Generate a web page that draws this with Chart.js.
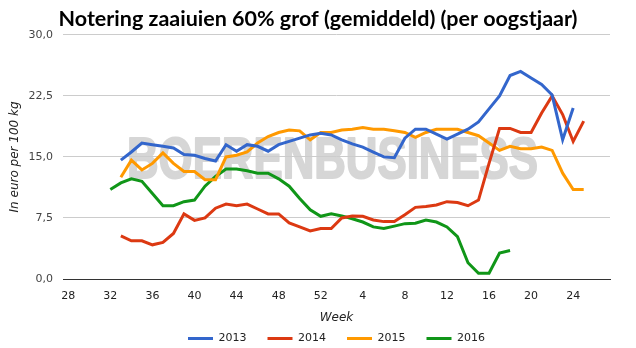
<!DOCTYPE html>
<html>
<head>
<meta charset="utf-8">
<script src="https://cdn.jsdelivr.net/npm/chart.js@4.4.1/dist/chart.umd.min.js"></script>
<style>
  html, body { margin: 0; padding: 0; background: #fff; }
  #wrap { width: 636px; height: 348px; }
</style>
</head>
<body>
<div id="wrap"><canvas id="c" width="636" height="348"></canvas></div>
<script>
// Harvest-year weeks: week 28 through week 27 of the next calendar year
const weeks = [28, 29, 30, 31, 32, 33, 34, 35, 36, 37, 38, 39, 40, 41, 42, 43, 44, 45, 46, 47, 48, 49, 50, 51, 52,
               1, 2, 3, 4, 5, 6, 7, 8, 9, 10, 11, 12, 13, 14, 15, 16, 17, 18, 19, 20, 21, 22, 23, 24, 25, 26, 27];

// Quotation, euro per 100 kg, per harvest year
const price2013 = [null, null, null, null, null,
  14.6, 15.6, 16.7, 16.5, 16.3, 16.1, 15.3, 15.2, 14.8, 14.5,
  16.5, 15.7, 16.5, 16.3, 15.7, 16.5, 16.9, 17.3, 17.7, 17.9,
  17.7, 17.1, 16.6, 16.2, 15.6, 15.0, 14.9, 17.3, 18.4, 18.4,
  17.8, 17.2, 17.8, 18.4, 19.3, 20.9, 22.5, 25.0, 25.5, 24.7,
  23.9, 22.6, 17.1, 21.0, null, null, null];

const price2014 = [null, null, null, null, null,
  5.3, 4.7, 4.7, 4.2, 4.5, 5.6, 8.0, 7.2, 7.5, 8.7,
  9.2, 9.0, 9.2, 8.6, 8.0, 8.0, 6.9, 6.4, 5.9, 6.2,
  6.2, 7.5, 7.75, 7.7, 7.25, 7.05, 7.05, 7.9, 8.8, 8.9,
  9.1, 9.5, 9.4, 9.0, 9.7, 14.2, 18.5, 18.5, 18.0, 18.0,
  20.4, 22.5, 20.2, 16.9, 19.4, null, null];

const price2015 = [null, null, null, null, null,
  12.5, 14.6, 13.4, 14.2, 15.5, 14.2, 13.2, 13.2, 12.2, 12.2,
  15.0, 15.2, 15.6, 16.7, 17.5, 18.0, 18.3, 18.2, 17.1, 18.0,
  18.0, 18.3, 18.4, 18.6, 18.4, 18.4, 18.2, 18.0, 17.4, 18.0,
  18.4, 18.4, 18.4, 18.0, 17.6, 16.7, 15.8, 16.3, 16.0, 16.0,
  16.2, 15.8, 13.0, 11.0, 11.0, null, null];

const price2016 = [null, null, null, null,
  11.0, 11.8, 12.3, 12.0, 10.5, 9.0, 9.0, 9.5, 9.7, 11.4,
  12.6, 13.5, 13.5, 13.3, 13.0, 13.0, 12.3, 11.4, 9.9, 8.5,
  7.7, 8.0, 7.75, 7.4, 7.0, 6.4, 6.2, 6.5, 6.8, 6.85,
  7.25, 7.0, 6.4, 5.2, 2.0, 0.7, 0.7, 3.2, 3.5,
  null, null, null, null, null, null, null, null, null];

const seriesNames = ['2013', '2014', '2015', '2016'];
const seriesColors = ['#3366cc', '#dc3912', '#ff9900', '#109618'];
const seriesValues = [price2013, price2014, price2015, price2016];

const titleText = 'Notering zaaiuien 60% grof (gemiddeld) (per oogstjaar)';
const yTitle = 'In euro per 100 kg';
const xTitle = 'Week';
const brandText = 'BOERENBUSINESS';

const tickFont = { family: '"DejaVu Sans", Tahoma, sans-serif', size: 11 };

// Large grey brand name behind the grid and lines
const brandMark = {
  id: 'brandMark',
  beforeDraw(chart) {
    const ctx = chart.ctx;
    ctx.save();
    ctx.font = 'bold 57px "Liberation Sans", Arial, sans-serif';
    const w = ctx.measureText(brandText).width;
    ctx.translate(127, 178);
    ctx.scale(411 / w, 1);
    ctx.fillStyle = '#d6d6d6';
    ctx.strokeStyle = '#d6d6d6';
    ctx.lineWidth = 2;
    ctx.lineJoin = 'round';
    ctx.textBaseline = 'alphabetic';
    ctx.fillText(brandText, 0, 0);
    ctx.strokeText(brandText, 0, 0);
    ctx.restore();
  }
};

// Legend row sits just below the axis title
const legendRow = {
  id: 'legendRow',
  afterLayout(chart) {
    chart.legend.top -= 16;
  }
};

new Chart(document.getElementById('c'), {
  type: 'line',
  data: {
    labels: weeks,
    datasets: seriesNames.map((name, i) => ({
      label: name,
      data: seriesValues[i],
      borderColor: seriesColors[i],
      backgroundColor: seriesColors[i],
      borderWidth: 3,
      pointRadius: 0,
      pointHoverRadius: 0,
      tension: 0,
      spanGaps: false,
      fill: false
    }))
  },
  options: {
    responsive: false,
    animation: false,
    layout: { padding: { left: 0, right: 0, top: 0, bottom: 0 } },
    plugins: {
      tooltip: { enabled: false },
      title: {
        display: true,
        text: titleText,
        color: '#000',
        font: { family: 'Lato, "DejaVu Sans", sans-serif', size: 21.5, weight: 'bold' },
        padding: { top: 6, bottom: 3 }
      },
      legend: {
        position: 'bottom',
        fullSize: false,
        maxHeight: 20,
        labels: {
          boxWidth: 25,
          boxHeight: 3,
          padding: 21,
          color: '#222',
          font: tickFont,
          generateLabels(chart) {
            const items = Chart.defaults.plugins.legend.labels.generateLabels(chart);
            items.forEach(it => { it.lineWidth = 0; it.fillStyle = it.strokeStyle; });
            return items;
          }
        }
      }
    },
    scales: {
      x: {
        type: 'category',
        offset: true,
        grid: { display: false, drawTicks: false },
        border: { display: true, color: '#333', width: 1 },
        ticks: {
          autoSkip: false,
          maxRotation: 0,
          padding: 11,
          color: '#222',
          font: tickFont,
          callback(value, index) { return index % 4 === 0 ? this.getLabelForValue(value) : ''; }
        },
        title: {
          display: true,
          text: xTitle,
          color: '#222',
          font: { family: '"DejaVu Sans", Tahoma, sans-serif', size: 12, style: 'italic' },
          padding: { top: 0, bottom: 3 }
        },
        afterFit(s) { s.height = 49; }
      },
      y: {
        min: 0,
        max: 30,
        grid: { color: '#cccccc', lineWidth: 1, drawTicks: false },
        border: { display: false },
        ticks: {
          stepSize: 7.5,
          padding: 10,
          color: '#444',
          font: tickFont,
          callback(v) { return v.toFixed(1).replace('.', ','); }
        },
        title: {
          display: true,
          text: yTitle,
          color: '#222',
          font: { family: '"DejaVu Sans", Tahoma, sans-serif', size: 12, style: 'italic' },
          padding: { top: 8, bottom: 0 }
        },
        afterFit(s) { s.width = 63; }
      },
      yRight: {
        position: 'right',
        display: true,
        grid: { display: false, drawTicks: false },
        border: { display: false },
        ticks: { display: false },
        afterFit(s) { s.width = 26; }
      }
    }
  },
  plugins: [brandMark, legendRow]
});
</script>
</body>
</html>
